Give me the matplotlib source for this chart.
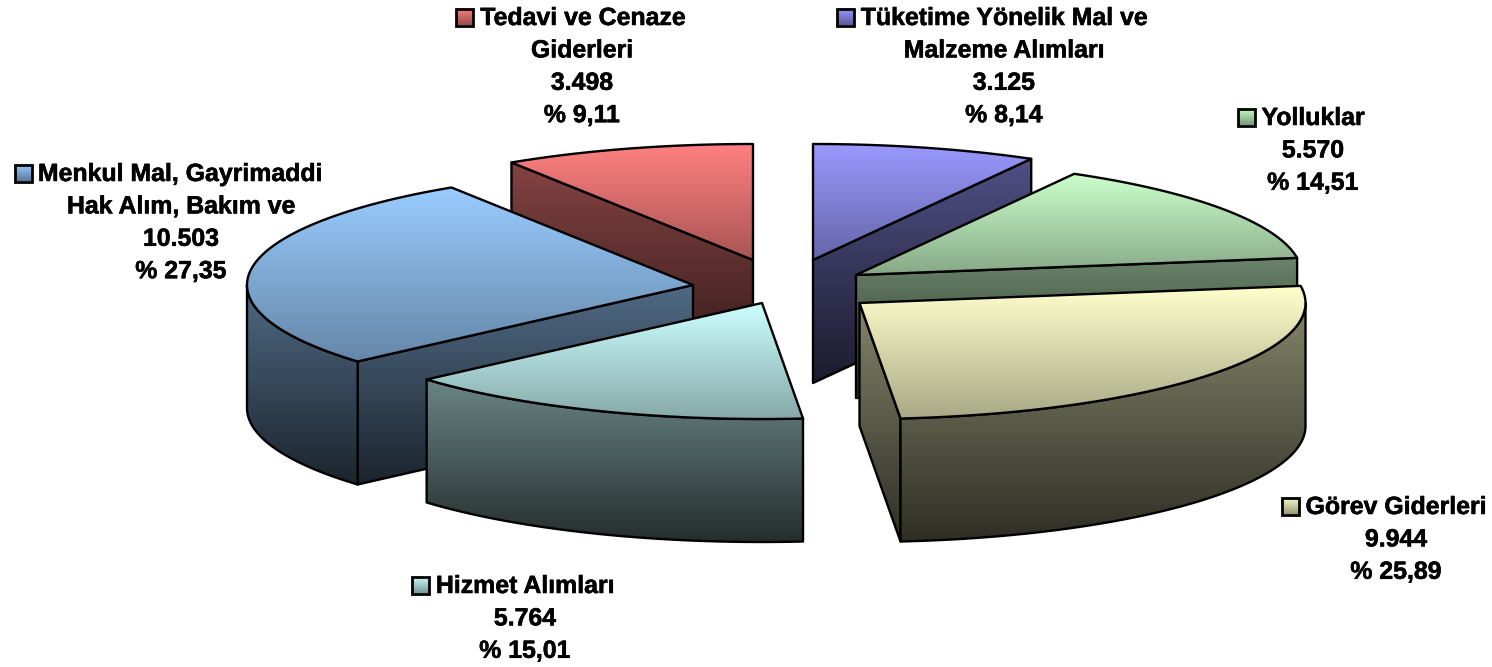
import numpy as np
import matplotlib
matplotlib.use("Agg")
import matplotlib.pyplot as plt
import matplotlib.patheffects as pe
from matplotlib.patches import Polygon, Rectangle

# slices clockwise from 12 o'clock
names = [["Tüketime Yönelik Mal ve", "Malzeme Alımları"],
         ["Yolluklar"],
         ["Görev Giderleri"],
         ["Hizmet Alımları"],
         ["Menkul Mal, Gayrimaddi", "Hak Alım, Bakım ve"],
         ["Tedavi ve Cenaze", "Giderleri"]]
values = [3125, 5570, 9944, 5764, 10503, 3498]
value_labels = ["3.125", "5.570", "9.944", "5.764", "10.503", "3.498"]
pct_labels = ["% 8,14", "% 14,51", "% 25,89", "% 15,01", "% 27,35", "% 9,11"]
colors = ["#9999FF", "#CCFFCC", "#FFFFCC", "#CCFFFF", "#99CCFF", "#FF8080"]

# layout, in pixels of the 1492x667 picture
apex_x = [813, 856, 859.5, 762, 693, 753]
apex_y = [260, 275, 303, 303, 285, 260]
label_x = [1004, 1313, 1396, 525, 181, 582]
first_line_x = [1004, 1313, 1396, 525, 180, 583]
label_y = [25, 125, 514, 593, 181, 25]
key_x = [837, 1238, 1282, 412, 15, 456]
draw_order = [5, 0, 1, 4, 2, 3]
RX = 446
RY = 116
DEPTH = 123
LINE = 32.4

plt.rcParams["font.family"] = ["Liberation Sans", "DejaVu Sans"]

fig = plt.figure(figsize=(14.92, 6.67), dpi=100)
ax = fig.add_axes([0, 0, 1, 1])


def rim(cx, cy, a1, a2):
    # angles in degrees, clockwise from the top of the ellipse
    t = np.radians(np.linspace(a1, a2, 120))
    return np.column_stack([cx + RX * np.sin(t), cy - RY * np.cos(t)])


def face(pts, color, y0, y1, b0, b1, z):
    # polygon filled with a vertical gradient from y0 to y1
    base = np.array(matplotlib.colors.to_rgb(color))
    img = base[None, None, :] * np.linspace(b0, b1, 128)[:, None, None]
    poly = Polygon(pts, closed=True, fc="none", ec="black", lw=1.7, zorder=z + 0.5, joinstyle="round")
    ax.add_patch(poly)
    im = ax.imshow(img, extent=[pts[:, 0].min() - 2, pts[:, 0].max() + 2, y1, y0],
                   aspect="auto", interpolation="bilinear", zorder=z)
    im.set_clip_path(poly)


edges = np.cumsum([0] + values) / sum(values) * 360

z = 1
for i in draw_order:
    a1, a2 = edges[i], edges[i + 1]
    cx, cy = apex_x[i], apex_y[i]
    arc = rim(cx, cy, a1, a2)
    apex = np.array([[cx, cy]])
    down = np.array([0, DEPTH])

    # walls that face the viewer
    walls = []
    if np.sin(np.radians(a1)) < 0:
        walls.append(np.vstack([apex, arc[:1], arc[:1] + down, apex + down]))
    if np.sin(np.radians(a2)) > 0:
        walls.append(np.vstack([apex, arc[-1:], arc[-1:] + down, apex + down]))
    lo, hi = max(a1, 90), min(a2, 270)
    if lo < hi:
        front = rim(cx, cy, lo, hi)
        walls.append(np.vstack([front, (front + down)[::-1]]))
    wall_top = min(w[:, 1].min() for w in walls)
    wall_bot = max(w[:, 1].max() for w in walls)
    for w in walls:
        face(w, colors[i], wall_top, wall_bot, 0.52, 0.18, z)
        z += 1

    # top
    top = np.vstack([apex, arc])
    face(top, colors[i], top[:, 1].min(), top[:, 1].max(), 1.0, 0.66, z)
    z += 1

# labels with their legend keys
for i in range(len(values)):
    lines = names[i] + [value_labels[i], pct_labels[i]]
    for j, line in enumerate(lines):
        x = first_line_x[i] if j == 0 else label_x[i]
        ax.text(x, label_y[i] + j * LINE, line, ha="center", va="baseline",
                fontsize=17.9, fontweight="bold", color="black", zorder=100,
                path_effects=[pe.withStroke(linewidth=0.4, foreground="black")])
    ky = label_y[i] - 16.5
    key = Rectangle((key_x[i], ky), 17, 17, fc="none", ec="black", lw=2, zorder=101)
    ax.add_patch(key)
    base = np.array(matplotlib.colors.to_rgb(colors[i]))
    img = base[None, None, :] * np.linspace(1, 0.6, 32)[:, None, None]
    ax.imshow(img, extent=[key_x[i], key_x[i] + 17, ky + 17, ky], aspect="auto",
              interpolation="bilinear", zorder=100)

ax.set_xlim(0, 1492)
ax.set_ylim(667, 0)
ax.axis("off")
fig.savefig("out.png", dpi=100, facecolor="white")
